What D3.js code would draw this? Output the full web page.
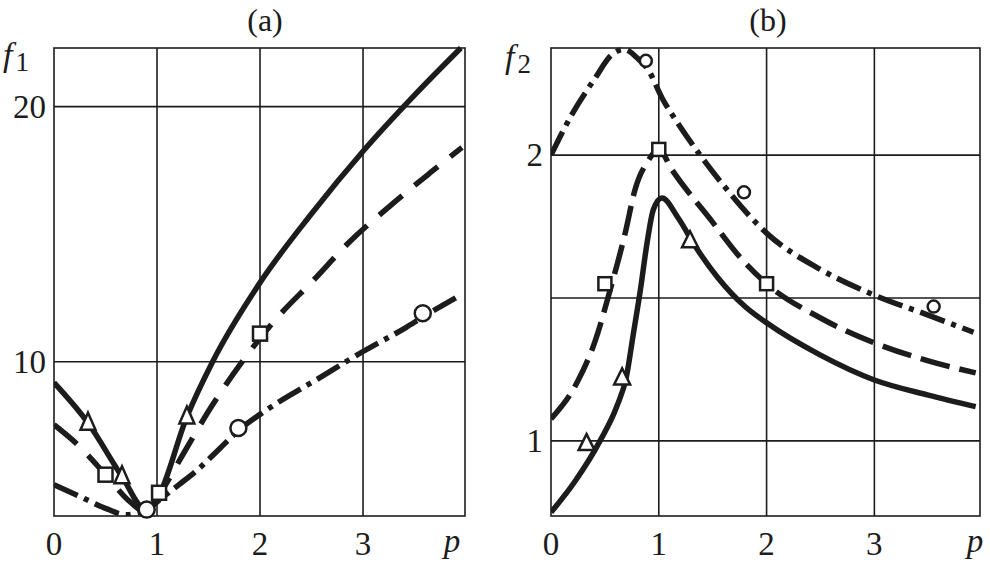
<!DOCTYPE html>
<html><head><meta charset="utf-8">
<script src="https://cdn.jsdelivr.net/npm/d3@7"></script>
<style>
html,body{margin:0;padding:0;background:#fff;}
svg{display:block;}
text{font-family:'Liberation Serif','DejaVu Serif','Times New Roman',Times,serif;}
</style></head>
<body><svg id="chart" width="990" height="565"></svg>
<script>
// ---- data ----
const xTicks = [0, 1, 2, 3];
const xTickLabels = ["0", "1", "2", "3"];
const yTicksA = [10, 20];
const yTickLabelsA = ["10", "20"];
const yGridB = [1, 1.5, 2];
const yTicksB = [1, 2];
const yTickLabelsB = ["1", "2"];

// panel (a): f1 vs p
const solidA = [[0,9.18],[0.33,7.6],[0.66,5.5],[0.9,4.15],[1.0,4.6],[1.29,7.84],[1.54,10.0],[2.0,13.1],[2.5,15.8],[3.0,18.25],[3.5,20.45],[3.95,22.3]];
const dashedA = [[0,7.53],[0.25,6.67],[0.5,5.57],[0.74,4.5],[0.87,4.15],[1.02,4.8],[1.26,6.42],[1.53,8.25],[1.82,9.96],[2.15,11.65],[2.52,13.2],[2.87,14.7],[3.26,16.1],[3.65,17.4],[3.96,18.4]];
const dashDotA = [[0,5.18],[0.25,4.72],[0.5,4.25],[0.7,4.0],[0.9,4.2],[1.06,4.7],[1.22,5.2],[1.39,5.75],[1.61,6.6],[1.79,7.3],[2.06,8.1],[2.55,9.3],[3.0,10.4],[3.42,11.35],[3.58,11.75],[3.9,12.5]];
const trianglesA = [[0.33,7.6],[0.66,5.5],[1.29,7.84]];
const squaresA = [[0.5,5.57],[1.02,4.86],[2.0,11.1]];
const circlesA = [[0.9,4.2],[1.79,7.4],[3.58,11.9]];

// panel (b): f2 vs p
const solidB = [[0,0.75],[0.22,0.857],[0.455,1.0],[0.61,1.12],[0.7,1.225],[0.76,1.365],[0.83,1.53],[0.89,1.69],[0.95,1.81],[1.03,1.85],[1.18,1.78],[1.34,1.68],[1.55,1.57],[1.8,1.47],[2.0,1.413],[2.5,1.3],[3.0,1.213],[3.5,1.16],[3.94,1.12]];
const dashedB = [[0,1.077],[0.25,1.21],[0.41,1.35],[0.55,1.53],[0.69,1.73],[0.78,1.88],[0.9,1.98],[1.0,2.02],[1.12,1.95],[1.49,1.77],[1.76,1.64],[2.0,1.55],[2.5,1.43],[3.0,1.343],[3.5,1.28],[3.94,1.238]];
const dashDotB = [[0,2.0],[0.19,2.14],[0.41,2.27],[0.56,2.35],[0.68,2.37],[0.8,2.34],[0.9,2.30],[1.03,2.20],[1.18,2.11],[1.37,2.007],[1.61,1.89],[2.0,1.727],[2.5,1.6],[3.0,1.51],[3.5,1.44],[3.92,1.38]];
const trianglesB = [[0.33,0.99],[0.66,1.22],[1.29,1.70]];
const squaresB = [[0.5,1.55],[1.0,2.02],[2.0,1.55]];
const circlesB = [[0.88,2.33],[1.79,1.87],[3.55,1.47]];

// ---- drawing ----
const svg = d3.select("#chart");
const INK = "#1c1c1c";
const FONT = "Liberation Serif, DejaVu Serif, Times New Roman, serif";

function panel(cfg) {
  const x = d3.scaleLinear().domain(cfg.xDomain).range([cfg.left, cfg.right]);
  const y = d3.scaleLinear().domain(cfg.yDomain).range([cfg.bottom, cfg.top]);
  const g = svg.append("g");
  const clipId = "clip" + cfg.id;
  svg.append("defs").append("clipPath").attr("id", clipId)
    .append("rect").attr("x", cfg.left).attr("y", cfg.top - 3)
    .attr("width", cfg.right - cfg.left).attr("height", cfg.bottom - cfg.top + 3);

  // grid
  g.selectAll(".vg").data(xTicks.filter(d => d > 0)).join("line")
    .attr("x1", d => x(d)).attr("x2", d => x(d))
    .attr("y1", cfg.top).attr("y2", cfg.bottom)
    .attr("stroke", INK).attr("stroke-width", 1.6);
  g.selectAll(".hg").data(cfg.yGrid).join("line")
    .attr("x1", cfg.left).attr("x2", cfg.right)
    .attr("y1", d => y(d)).attr("y2", d => y(d))
    .attr("stroke", INK).attr("stroke-width", 1.6);
  g.append("rect").attr("x", cfg.left).attr("y", cfg.top)
    .attr("width", cfg.right - cfg.left).attr("height", cfg.bottom - cfg.top)
    .attr("fill", "none").attr("stroke", INK).attr("stroke-width", 1.6);

  // tick labels
  g.selectAll(".xt").data(xTicks).join("text")
    .attr("font-family", FONT)
    .attr("x", d => x(d)).attr("y", 555)
    .attr("text-anchor", "middle").attr("font-size", 33).attr("fill", INK)
    .text((d, i) => xTickLabels[i]);
  g.append("text").attr("x", cfg.pX).attr("y", 552)
    .attr("font-family", FONT)
    .attr("text-anchor", "middle").attr("font-size", 33).attr("font-style", "italic")
    .attr("fill", INK).text("p");
  g.selectAll(".yt").data(cfg.yTicks).join("text")
    .attr("font-family", FONT)
    .attr("x", cfg.left - 8).attr("y", d => y(d) + 11)
    .attr("text-anchor", "end").attr("font-size", 33).attr("fill", INK)
    .text((d, i) => cfg.yTickLabels[i]);

  // axis name f with subscript
  const t = g.append("text").attr("x", cfg.fX).attr("y", cfg.fY).attr("fill", INK)
    .attr("font-family", FONT);
  t.append("tspan").attr("font-style", "italic").attr("font-size", 34).text("f");
  t.append("tspan").attr("font-size", 27).attr("dx", 3).attr("dy", 5).text(cfg.sub);

  // title
  g.append("text").attr("x", cfg.titleX).attr("y", 31)
    .attr("font-family", FONT)
    .attr("text-anchor", "middle").attr("font-size", 32).attr("fill", INK)
    .text(cfg.title);

  // curves
  const line = d3.line().x(d => x(d[0])).y(d => y(d[1])).curve(d3.curveMonotoneX);
  const cg = g.append("g").attr("clip-path", `url(#${clipId})`);
  cfg.curves.forEach(c => {
    cg.append("path").attr("d", line(c.data)).attr("fill", "none")
      .attr("stroke", INK).attr("stroke-width", 5.5)
      .attr("stroke-dasharray", c.dash).attr("stroke-linejoin", "round");
  });

  // markers
  const ms = cfg.markerSize;
  const mg = g.append("g");
  const tw = ms.triW / 2, th = ms.triH;
  mg.selectAll(".tri").data(cfg.triangles).join("path")
    .attr("transform", d => `translate(${x(d[0])},${y(d[1])})`)
    .attr("d", `M0,${-th * 0.6}L${tw},${th * 0.4}L${-tw},${th * 0.4}Z`)
    .attr("fill", "#fff").attr("stroke", INK).attr("stroke-width", 2.5)
    .attr("stroke-linejoin", "miter");
  mg.selectAll(".sq").data(cfg.squares).join("rect")
    .attr("x", d => x(d[0]) - ms.sq / 2).attr("y", d => y(d[1]) - ms.sq / 2)
    .attr("width", ms.sq).attr("height", ms.sq)
    .attr("fill", "#fff").attr("stroke", INK).attr("stroke-width", 2.5);
  mg.selectAll(".ci").data(cfg.circles).join("circle")
    .attr("cx", d => x(d[0])).attr("cy", d => y(d[1])).attr("r", ms.ci)
    .attr("fill", "#fff").attr("stroke", INK).attr("stroke-width", 2.5);
}

panel({
  id: "a", left: 54, right: 465, top: 48, bottom: 516,
  xDomain: [0, 3.99], yDomain: [3.95, 22.3],
  yGrid: yTicksA, yTicks: yTicksA, yTickLabels: yTickLabelsA,
  pX: 452, fX: 3, fY: 66, sub: "1", title: "(a)", titleX: 265,
  curves: [
    {data: solidA, dash: null},
    {data: dashedA, dash: "30,16"},
    {data: dashDotA, dash: "26,7,5,7"}
  ],
  triangles: trianglesA, squares: squaresA, circles: circlesA,
  markerSize: {triW: 15, triH: 17, sq: 14, ci: 8}
});

panel({
  id: "b", left: 551, right: 980, top: 48, bottom: 516,
  xDomain: [0, 3.98], yDomain: [0.737, 2.375],
  yGrid: yGridB, yTicks: yTicksB, yTickLabels: yTickLabelsB,
  pX: 975, fX: 505, fY: 68, sub: "2", title: "(b)", titleX: 768,
  curves: [
    {data: solidB, dash: null},
    {data: dashedB, dash: "30,10"},
    {data: dashDotB, dash: "26,7,5,7"}
  ],
  triangles: trianglesB, squares: squaresB, circles: circlesB,
  markerSize: {triW: 16, triH: 16, sq: 13, ci: 6}
});
</script></body></html>
